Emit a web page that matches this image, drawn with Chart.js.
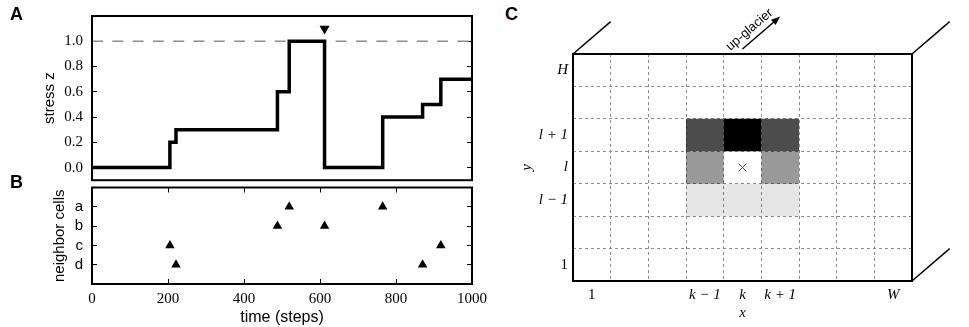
<!DOCTYPE html>
<html>
<head>
<meta charset="utf-8">
<script src="https://cdn.jsdelivr.net/npm/chart.js@4.4.1/dist/chart.umd.min.js"></script>
<style>
  html, body { margin: 0; padding: 0; background: #fff; }
  #wrap { position: relative; width: 969px; height: 327px; overflow: hidden; font-family: 'Liberation Sans', Arial, sans-serif; }
  .box { position: absolute; }
  .plbl { position: absolute; font-weight: bold; font-size: 18px; line-height: 18px; color: #000; }
</style>
</head>
<body>
<div id="wrap">
  <div class="box" style="left:0;top:0;width:500px;height:186px"><canvas id="chA"></canvas></div>
  <div class="box" style="left:0;top:182px;width:500px;height:145px"><canvas id="chB"></canvas></div>
  <div class="box" style="left:520px;top:0;width:449px;height:327px"><canvas id="chC"></canvas></div>
  <div class="plbl" style="left:10px;top:5px">A</div>
  <div class="plbl" style="left:10px;top:173px">B</div>
  <div class="plbl" style="left:505px;top:5px">C</div>
</div>
<script>
// --- panel A: stress of the cell over time
const stepTimes   = [0, 205, 221, 488, 519, 612, 765, 870, 918, 1000];
const stressLvls  = [0, 0.2, 0.3, 0.6, 1.0, 0.0, 0.4, 0.5, 0.7, 0.7];
const stressTicks = [0, 0.2, 0.4, 0.6, 0.8, 1.0];
const threshold   = 1.0;
const failT = 612, failY = 1.1;

// --- panel B: events in the neighbouring cells
const cellNames  = ['a', 'b', 'c', 'd'];
const eventTimes = [205, 221, 488, 519, 612, 765, 870, 918];
const eventCells = ['c', 'd', 'b', 'a', 'b', 'a', 'd', 'c'];
const timeTicks  = [0, 200, 400, 600, 800, 1000];

// --- panel C: grid of cells (columns left→right, rows bottom→top)
const colLabels   = ['1', '', '', 'k − 1', 'k', 'k + 1', '', '', 'W'];
const rowLabels   = ['1', '', 'l − 1', 'l', 'l + 1', '', 'H'];
const cellCols    = [3, 4, 5, 3, 5, 3, 4, 5];
const cellRows    = [4, 4, 4, 3, 3, 2, 2, 2];
const cellWeights = [0.7, 1.0, 0.7, 0.4, 0.4, 0.1, 0.1, 0.1];
const centerCol = 4, centerRow = 3;
const arrowLabel = 'up-glacier';

const SERIF = "'Liberation Serif', 'DejaVu Serif', serif";
const SANS  = "'Liberation Sans', Arial, sans-serif";
Chart.defaults.font.family = SANS;
Chart.defaults.color = '#000';
Chart.defaults.animation = false;
Chart.defaults.plugins.legend.display = false;
Chart.defaults.plugins.tooltip.enabled = false;

// fixed axis sizes; drop the label overhang padding so the plot box lands where we want it
const fixW = w => s => { s.width = w; s.paddingTop = 0; s.paddingBottom = 0; };
const fixH = h => s => { s.height = h; s.paddingLeft = 0; s.paddingRight = 0; };
const setTicks = vals => ax => { ax.ticks = vals.map(v => ({ value: v })); };
const inTicks = () => ({ drawOnChartArea: false, tickLength: -5, tickColor: '#000', tickWidth: 1 });

// box round the plot area
const frame = {
  id: 'frame',
  afterDraw(c) {
    const { ctx, chartArea: a } = c;
    ctx.save();
    ctx.lineWidth = 2; ctx.strokeStyle = '#000';
    ctx.strokeRect(a.left, a.top, a.right - a.left, a.bottom - a.top);
    ctx.restore();
  }
};

// A
new Chart(document.getElementById('chA'), {
  type: 'line',
  data: { datasets: [
    { data: stepTimes.map((t, i) => ({ x: t, y: stressLvls[i] })), stepped: 'before',
      borderColor: '#000', borderWidth: 3.5, pointRadius: 0, order: 1 },
    { data: [{ x: 0, y: threshold }, { x: 1000, y: threshold }], borderColor: '#8c8c8c',
      borderWidth: 1.5, borderDash: [11, 9.3], pointRadius: 0, order: 2 },
    { data: [{ x: failT, y: failY }], showLine: false, pointStyle: 'triangle', pointRotation: 180,
      pointRadius: 5.8, pointBackgroundColor: '#000', pointBorderColor: '#000', pointBorderWidth: 0, order: 0 },
  ] },
  options: {
    responsive: true, maintainAspectRatio: false,
    layout: { padding: { top: 16, right: 28, bottom: 2, left: 0 } },
    scales: {
      x: { type: 'linear', min: 0, max: 1000, display: false },
      y: { min: -0.1, max: 1.2, afterBuildTicks: setTicks(stressTicks), afterFit: fixW(92),
           ticks: { padding: 14, font: { family: SERIF, size: 15 }, callback: v => v.toFixed(1) },
           grid: inTicks(), border: { display: false },
           title: { display: true, text: 'stress z', font: { size: 15 }, padding: { top: 41 } } },
      y2: { position: 'right', min: -0.1, max: 1.2, afterBuildTicks: setTicks(stressTicks), afterFit: fixW(0),
            ticks: { display: false }, grid: inTicks(), border: { display: false } },
    }
  },
  plugins: [frame]
});

// B
new Chart(document.getElementById('chB'), {
  type: 'scatter',
  data: { datasets: [
    { data: eventTimes.map((t, i) => ({ x: t, y: cellNames.indexOf(eventCells[i]) })),
      pointStyle: 'triangle', pointRadius: 5.5, pointBackgroundColor: '#000',
      pointBorderColor: '#000', pointBorderWidth: 0 },
  ] },
  options: {
    responsive: true, maintainAspectRatio: false,
    layout: { padding: { top: 4, right: 28, bottom: 0, left: 0 } },
    scales: {
      x: { type: 'linear', min: 0, max: 1000, afterBuildTicks: setTicks(timeTicks), afterFit: fixH(43),
           ticks: { padding: 11, maxRotation: 0, font: { family: SERIF, size: 15 }, callback: v => String(v) },
           grid: inTicks(), border: { display: false },
           title: { display: true, text: 'time (steps)', font: { size: 16 }, padding: { top: 0, bottom: 0 } } },
      x2: { type: 'linear', position: 'top', min: 0, max: 1000, afterBuildTicks: setTicks(timeTicks), afterFit: fixH(0),
            ticks: { display: false }, grid: inTicks(), border: { display: false } },
      y: { reverse: true, min: -1, max: cellNames.length, afterBuildTicks: setTicks(cellNames.map((_, i) => i)),
           afterFit: fixW(92), ticks: { padding: 14, font: { size: 15 }, callback: v => cellNames[v] },
           grid: inTicks(), border: { display: false },
           title: { display: true, text: 'neighbor cells', font: { size: 15 }, padding: { top: 51 } } },
      y2: { position: 'right', reverse: true, min: -1, max: cellNames.length,
            afterBuildTicks: setTicks(cellNames.map((_, i) => i)), afterFit: fixW(0),
            ticks: { display: false }, grid: inTicks(), border: { display: false } },
    }
  },
  plugins: [frame]
});

// C — perspective edges plus the up-glacier arrow
const depth = {
  id: 'depth',
  afterDraw(c) {
    const { ctx, chartArea: a, scales: { x, y } } = c;
    const dx = x.getPixelForValue(1) - x.getPixelForValue(0);
    const dy = y.getPixelForValue(0) - y.getPixelForValue(1);
    ctx.save();
    ctx.strokeStyle = '#000'; ctx.fillStyle = '#000'; ctx.lineWidth = 1.5;
    [[a.left, a.top], [a.right, a.top], [a.right, a.bottom]].forEach(([px, py]) => {
      ctx.beginPath(); ctx.moveTo(px, py); ctx.lineTo(px + dx, py - dy); ctx.stroke();
    });
    const x0 = x.getPixelForValue(centerCol + 0.5), y0 = a.top - 5;
    const x1 = x0 + dx, y1 = y0 - dy;
    const ang = Math.atan2(y1 - y0, x1 - x0);
    const ux = Math.cos(ang), uy = Math.sin(ang);
    ctx.beginPath(); ctx.moveTo(x0, y0); ctx.lineTo(x1 - ux * 6, y1 - uy * 6); ctx.stroke();
    ctx.beginPath();
    ctx.moveTo(x1, y1);
    ctx.lineTo(x1 - ux * 9 - uy * 3.5, y1 - uy * 9 + ux * 3.5);
    ctx.lineTo(x1 - ux * 9 + uy * 3.5, y1 - uy * 9 - ux * 3.5);
    ctx.closePath(); ctx.fill();
    const mx = (x0 + x1) / 2 - ux * 7 + uy * 10, my = (y0 + y1) / 2 - uy * 7 - ux * 10;
    ctx.translate(mx, my); ctx.rotate(ang);
    ctx.font = '13px ' + SANS; ctx.textAlign = 'center'; ctx.textBaseline = 'middle';
    ctx.fillText(arrowLabel, 0, 0);
    ctx.restore();
  }
};

const fontC = c => ({ family: SERIF, size: 15,
  style: /[A-Za-z]/.test((c.tick && c.tick.label) || '') ? 'italic' : 'normal' });

new Chart(document.getElementById('chC'), {
  type: 'bar',
  data: { datasets: [
    { type: 'scatter', data: [{ x: centerCol + 0.5, y: centerRow + 0.5 }], pointStyle: 'crossRot',
      pointRadius: 5.5, pointBorderColor: '#444', pointBorderWidth: 1, order: 0 },
    { data: cellCols.map((col, i) => ({ x: col + 0.5, y: [cellRows[i], cellRows[i] + 1] })),
      backgroundColor: cellWeights.map(w => `rgba(0,0,0,${w})`), borderWidth: 0,
      barPercentage: 1, categoryPercentage: 1, inflateAmount: 0, grouped: false, order: 1 },
  ] },
  options: {
    responsive: true, maintainAspectRatio: false,
    layout: { padding: { top: 54, right: 57, bottom: 0, left: 0 } },
    scales: {
      x: { type: 'linear', min: 0, max: colLabels.length, offset: false, afterFit: fixH(0),
           ticks: { display: false, stepSize: 1 },
           grid: { offset: false, drawTicks: false, color: '#8c8c8c', lineWidth: 1 },
           border: { display: false, dash: [3, 3] } },
      y: { type: 'linear', min: 0, max: rowLabels.length, afterFit: fixW(0),
           ticks: { display: false, stepSize: 1 },
           grid: { drawTicks: false, color: '#8c8c8c', lineWidth: 1 },
           border: { display: false, dash: [3, 3] } },
      xl: { type: 'category', position: 'bottom', labels: colLabels, offset: true, afterFit: fixH(46),
            grid: { display: false, drawTicks: false }, border: { display: false },
            ticks: { padding: 5, autoSkip: false, maxRotation: 0, font: fontC },
            title: { display: true, text: 'x', font: { family: SERIF, size: 15, style: 'italic' }, padding: { top: 0, bottom: 5 } } },
      yl: { type: 'category', position: 'left', labels: rowLabels, reverse: true, offset: true, afterFit: fixW(53),
            grid: { display: false, drawTicks: false }, border: { display: false },
            ticks: { padding: 5, autoSkip: false, font: fontC },
            title: { display: true, text: 'y', font: { family: SERIF, size: 15, style: 'italic', lineHeight: 1 }, padding: { top: 0, bottom: 0 } } },
    }
  },
  plugins: [frame, depth]
});
</script>
</body>
</html>
